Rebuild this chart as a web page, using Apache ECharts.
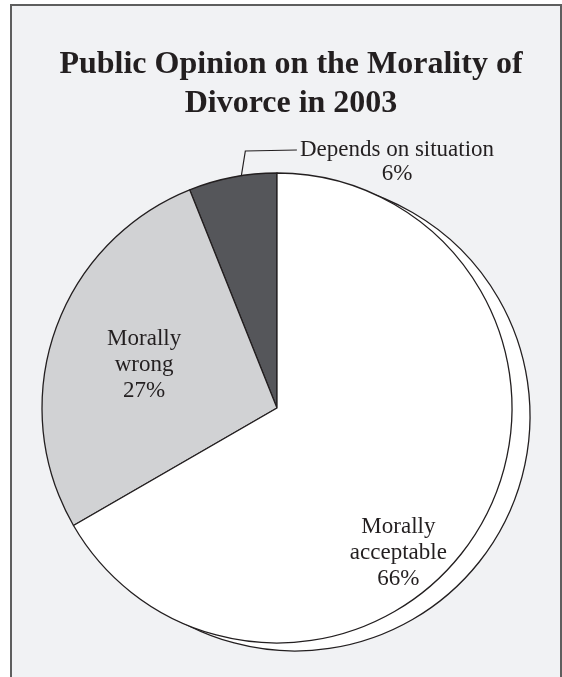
<!DOCTYPE html>
<html>
<head>
<meta charset="utf-8">
<script src="https://cdn.jsdelivr.net/npm/echarts@6/dist/echarts.min.js"></script>
<style>
  html, body { margin: 0; padding: 0; background: #ffffff; }
  #chart { width: 562px; height: 677px; }
</style>
</head>
<body>
<div id="chart"></div>
<script>
// Survey answers, in drawing order (counter-clockwise from 12 o'clock)
const categories = ['Depends on situation', 'Morally wrong', 'Morally acceptable'];
const labelNames = ['Depends on situation', 'Morally\nwrong', 'Morally\nacceptable'];
const percents = [6, 27, 66];
const sliceColors = ['#55565a', '#d1d2d4', '#ffffff'];
const titleLines = ['Public Opinion on the Morality of', 'Divorce in 2003'];

const SERIF = '"Liberation Serif", "Times New Roman", serif';
const INK = '#231f20';
const CENTER = [277, 408];
const RADIUS = 235;
const SHADOW_SHIFT = [18, 8];

// Nudges for the labels drawn inside their slices
const insideShift = { 1: [-19, -4], 2: [17, 85] };

// Where the leader line of the small slice leaves the rim:
// 40% of the way across that slice, counter-clockwise from 12 o'clock
function leaderStart() {
  const total = percents.reduce((a, b) => a + b, 0);
  const ang = (percents[0] * 0.4 / total) * 2 * Math.PI;
  return [CENTER[0] - RADIUS * Math.sin(ang), CENTER[1] - RADIUS * Math.cos(ang)];
}

const chart = echarts.init(document.getElementById('chart'), null, { renderer: 'canvas' });

const frontData = categories.map((name, i) => ({
  name: name,
  value: percents[i],
  itemStyle: { color: sliceColors[i] },
  label: i === 0
    ? { position: 'outside', lineHeight: 24 }
    : { position: 'inside', lineHeight: 26 },
  labelLine: { show: i === 0 }
}));

// Back copy of the big slice, offset to give it a raised edge
const backData = categories.map((name, i) => ({
  name: name,
  value: percents[i],
  itemStyle: i === 2
    ? { color: '#ffffff', borderColor: INK, borderWidth: 1.3 }
    : { color: 'rgba(0,0,0,0)', borderWidth: 0 }
}));

chart.setOption({
  backgroundColor: '#ffffff',
  animation: false,
  graphic: [{
    type: 'rect',
    z: -10,
    silent: true,
    shape: { x: 11, y: 5, width: 550, height: 720 },
    style: { fill: '#f1f2f4', stroke: '#5e5e5e', lineWidth: 2 }
  }],
  title: {
    text: titleLines.join('\n'),
    left: 286,
    top: 40,
    textAlign: 'center',
    textStyle: {
      fontFamily: SERIF,
      fontWeight: 'bold',
      fontSize: 32,
      lineHeight: 39,
      color: INK
    }
  },
  series: [
    {
      type: 'pie',
      silent: true,
      z: 1,
      center: [CENTER[0] + SHADOW_SHIFT[0], CENTER[1] + SHADOW_SHIFT[1]],
      radius: RADIUS,
      startAngle: 90,
      clockwise: false,
      label: { show: false },
      labelLine: { show: false },
      data: backData
    },
    {
      type: 'pie',
      silent: true,
      z: 2,
      center: CENTER,
      radius: RADIUS,
      startAngle: 90,
      clockwise: false,
      avoidLabelOverlap: false,
      itemStyle: { borderColor: INK, borderWidth: 1.3 },
      label: {
        show: true,
        fontFamily: SERIF,
        fontSize: 23,
        color: INK,
        align: 'center',
        formatter: function (p) {
          return labelNames[p.dataIndex] + '\n' + p.value + '%';
        }
      },
      labelLine: {
        show: true,
        length: 20,
        length2: 40,
        lineStyle: { color: INK, width: 1.2 }
      },
      labelLayout: function (p) {
        const i = p.dataIndex;
        if (i === 0) {
          const w = p.labelRect.width;
          const cx = 397, top = 138;
          const midY = top + 12;
          const start = leaderStart();
          return {
            x: cx,
            y: top,
            align: 'center',
            verticalAlign: 'top',
            labelLinePoints: [
              [start[0], start[1]],
              [start[0] + 4, midY + 1],
              [cx - w / 2 - 3, midY]
            ]
          };
        }
        const s = insideShift[i] || [0, 0];
        return { dx: s[0], dy: s[1] };
      },
      data: frontData
    }
  ]
});
</script>
</body>
</html>
